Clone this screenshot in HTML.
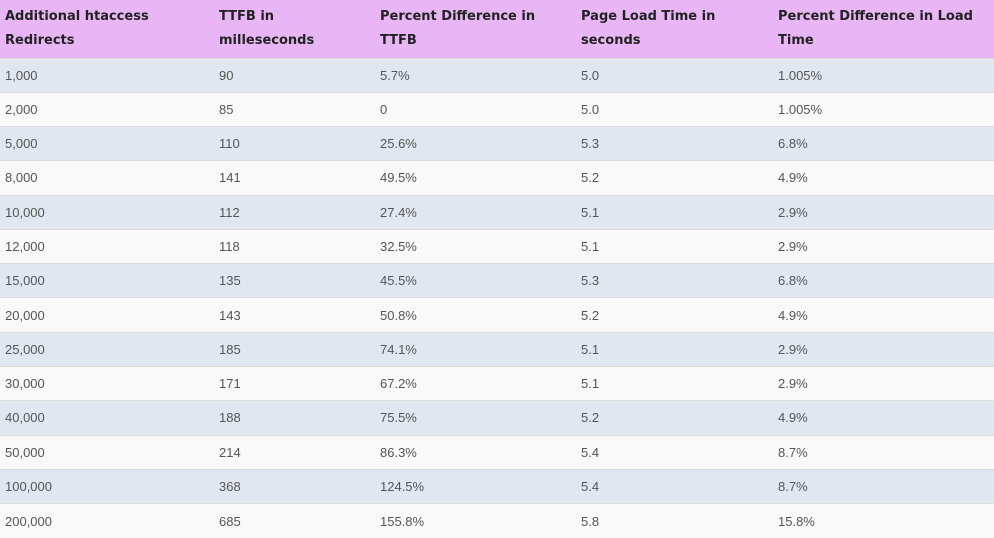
<!DOCTYPE html>
<html><head><meta charset="utf-8">
<style>
html,body{margin:0;padding:0;width:994px;height:538px;overflow:hidden;background:#f9f9f9;font-family:"Liberation Sans",sans-serif;}
table{border-collapse:collapse;width:994px;table-layout:fixed;}
th{background:#e8b6f4;color:#222;font-family:"DejaVu Sans",sans-serif;font-weight:bold;font-size:13px;text-align:left;vertical-align:middle;line-height:24px;height:58px;padding:0 0 0 5px;box-sizing:border-box;white-space:nowrap;}
td{font-size:13px;color:#555;height:34.29px;padding:0 0 0 5px;box-sizing:border-box;border-top:1px solid #dcdcdc;}
tr.o td{background:#e1e7f0;}
tr.e td{background:#f9f9f9;}
</style></head><body>
<table>
<colgroup><col style="width:214px"><col style="width:161px"><col style="width:201px"><col style="width:197px"><col style="width:221px"></colgroup>
<thead><tr>
<th>Additional htaccess<br>Redirects</th>
<th>TTFB in<br>milleseconds</th>
<th>Percent Difference in<br>TTFB</th>
<th>Page Load Time in<br>seconds</th>
<th>Percent Difference in Load<br>Time</th>
</tr></thead>
<tbody>
<tr class="o"><td>1,000</td><td>90</td><td>5.7%</td><td>5.0</td><td>1.005%</td></tr>
<tr class="e"><td>2,000</td><td>85</td><td>0</td><td>5.0</td><td>1.005%</td></tr>
<tr class="o"><td>5,000</td><td>110</td><td>25.6%</td><td>5.3</td><td>6.8%</td></tr>
<tr class="e"><td>8,000</td><td>141</td><td>49.5%</td><td>5.2</td><td>4.9%</td></tr>
<tr class="o"><td>10,000</td><td>112</td><td>27.4%</td><td>5.1</td><td>2.9%</td></tr>
<tr class="e"><td>12,000</td><td>118</td><td>32.5%</td><td>5.1</td><td>2.9%</td></tr>
<tr class="o"><td>15,000</td><td>135</td><td>45.5%</td><td>5.3</td><td>6.8%</td></tr>
<tr class="e"><td>20,000</td><td>143</td><td>50.8%</td><td>5.2</td><td>4.9%</td></tr>
<tr class="o"><td>25,000</td><td>185</td><td>74.1%</td><td>5.1</td><td>2.9%</td></tr>
<tr class="e"><td>30,000</td><td>171</td><td>67.2%</td><td>5.1</td><td>2.9%</td></tr>
<tr class="o"><td>40,000</td><td>188</td><td>75.5%</td><td>5.2</td><td>4.9%</td></tr>
<tr class="e"><td>50,000</td><td>214</td><td>86.3%</td><td>5.4</td><td>8.7%</td></tr>
<tr class="o"><td>100,000</td><td>368</td><td>124.5%</td><td>5.4</td><td>8.7%</td></tr>
<tr class="e"><td>200,000</td><td>685</td><td>155.8%</td><td>5.8</td><td>15.8%</td></tr>
</tbody></table>
</body></html>
